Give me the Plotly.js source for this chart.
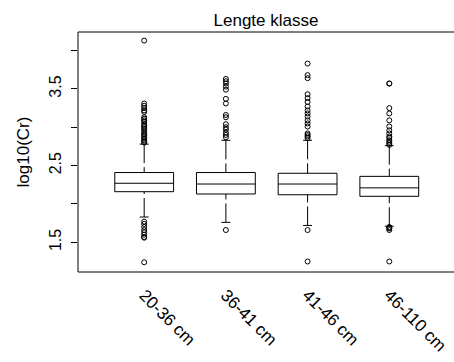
<!DOCTYPE html>
<html>
<head>
<meta charset="utf-8">
<script src="https://cdn.plot.ly/plotly-3.0.1.min.js"></script>
<style>
  html, body { margin: 0; padding: 0; background: #ffffff; }
  #chart { width: 454px; height: 362px; }
</style>
</head>
<body>
<div id="chart"></div>
<script>
// ---- data ----
const categories = ["20-36 cm", "36-41 cm", "41-46 cm", "46-110 cm"];
const positions = [1, 2, 3, 4];
const q1 = [2.16, 2.13, 2.12, 2.10];
const medians = [2.27, 2.26, 2.26, 2.21];
const q3 = [2.41, 2.41, 2.40, 2.36];
const lowerWhisker = [1.83, 1.76, 1.72, 1.71];
const upperWhisker = [2.78, 2.83, 2.83, 2.76];
const outliers1 = [4.13, 3.31, 3.28, 3.25, 3.22, 3.20, 3.13, 3.11, 3.09, 3.07, 3.04, 3.02, 3.00, 2.98, 2.96, 2.93, 2.91, 2.89, 2.87, 2.85, 2.83, 2.81, 2.80,
                   1.77, 1.74, 1.70, 1.66, 1.63, 1.60, 1.57, 1.56, 1.24];
const outliers2 = [3.63, 3.60, 3.57, 3.53, 3.49, 3.37, 3.31, 3.16, 3.13, 3.04, 3.00, 2.97, 2.93, 2.90, 2.87, 1.66];
const outliers3 = [3.83, 3.68, 3.64, 3.43, 3.38, 3.33, 3.27, 3.22, 3.18, 3.14, 3.09, 3.05, 3.01, 2.92, 2.90, 2.88, 2.86, 1.66, 1.25];
const outliers4 = [3.57, 3.57, 3.25, 3.18, 3.09, 3.01, 2.96, 2.92, 2.88, 2.86, 2.83, 2.81, 2.79, 2.77, 1.70, 1.69, 1.68, 1.66, 1.25];
const outlierSets = [outliers1, outliers2, outliers3, outliers4];
const yTickVals = [1.5, 2.0, 2.5, 3.0, 3.5, 4.0];
const yTickText = ["1.5", "", "2.5", "", "3.5", ""];
const chartTitle = "Lengte klasse";
const yTitle = "log10(Cr)";

// ---- style constants ----
const FONT = "Liberation Sans, Arial, Helvetica, sans-serif";
const capHalf = 0.055;
const boxWidth = 0.72;

const traces = [];

// boxes (no whiskers: fences at the hinges)
traces.push({
  type: "box",
  x: positions,
  q1: q1, median: medians, q3: q3,
  lowerfence: q1, upperfence: q3,
  width: boxWidth,
  fillcolor: "#ffffff",
  line: { color: "#000000", width: 1 },
  whiskerwidth: 0,
  boxpoints: false,
  hoverinfo: "skip",
  showlegend: false
});

// dashed whiskers, drawn from the whisker end towards the box
const wx = [], wy = [];
positions.forEach((p, i) => {
  wx.push(p, p, null, p, p, null);
  wy.push(upperWhisker[i], q3[i], null, lowerWhisker[i], q1[i], null);
});
traces.push({
  type: "scatter", mode: "lines", x: wx, y: wy,
  line: { color: "#000000", width: 1, dash: "19px,4px" },
  hoverinfo: "skip", showlegend: false
});

// whisker caps
const cx = [], cy = [];
positions.forEach((p, i) => {
  cx.push(p - capHalf, p + capHalf, null, p - capHalf, p + capHalf, null);
  cy.push(upperWhisker[i], upperWhisker[i], null, lowerWhisker[i], lowerWhisker[i], null);
});
traces.push({
  type: "scatter", mode: "lines", x: cx, y: cy,
  line: { color: "#000000", width: 1 },
  hoverinfo: "skip", showlegend: false
});

// outliers
outlierSets.forEach((vals, i) => {
  traces.push({
    type: "scatter", mode: "markers",
    x: vals.map(() => positions[i]), y: vals,
    marker: { symbol: "circle-open", size: 5, color: "#000000", line: { width: 1, color: "#000000" } },
    hoverinfo: "skip", showlegend: false
  });
});

const layout = {
  width: 454, height: 362,
  margin: { l: 78, r: 0, t: 32, b: 90 },
  paper_bgcolor: "#ffffff", plot_bgcolor: "#ffffff",
  font: { family: FONT, color: "#000000", size: 16 },
  showlegend: false,
  title: {
    text: chartTitle,
    font: { family: FONT, size: 17, color: "#000000" },
    x: 0.5, xref: "paper", xanchor: "center",
    y: 1 - 20 / 362, yref: "container", yanchor: "middle"
  },
  xaxis: {
    range: [0.19, 4.792],
    tickmode: "array", tickvals: positions, ticktext: categories,
    tickangle: 45,
    ticks: "", showgrid: false, zeroline: false, showline: false,
    tickfont: { family: FONT, size: 17, color: "#000000" },
    ticklabelstandoff: 9
  },
  yaxis: {
    range: [1.113, 4.242],
    tickmode: "array", tickvals: yTickVals, ticktext: yTickText,
    tickangle: -90,
    ticks: "outside", ticklen: 6, tickwidth: 1, tickcolor: "#000000",
    showgrid: false, zeroline: false, showline: false,
    tickfont: { family: FONT, size: 16, color: "#000000" },
    ticklabelstandoff: 4,
    title: { text: yTitle, font: { family: FONT, size: 17, color: "#000000" }, standoff: 12 }
  },
  shapes: [{
    type: "rect", xref: "paper", yref: "paper",
    x0: 0, x1: 1.02, y0: 0, y1: 1,
    line: { color: "#000000", width: 1 }, fillcolor: "rgba(0,0,0,0)", layer: "above"
  }]
};

Plotly.newPlot("chart", traces, layout, { staticPlot: true, displayModeBar: false });
</script>
</body>
</html>
